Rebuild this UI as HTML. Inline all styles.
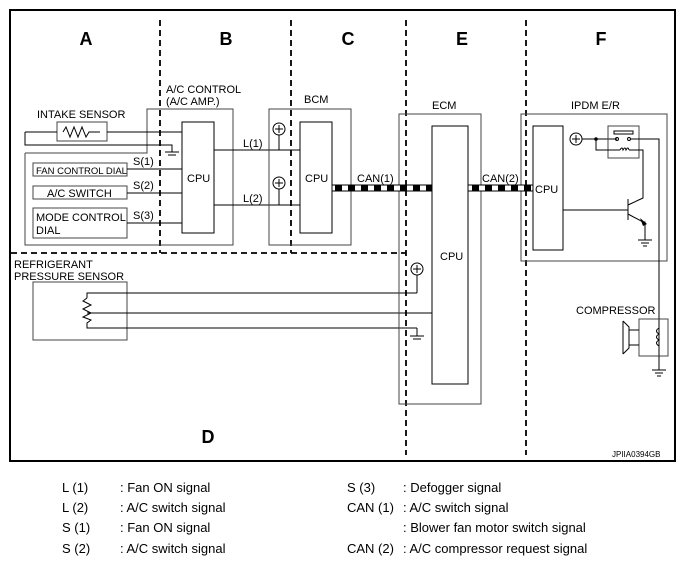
<!DOCTYPE html>
<html><head><meta charset="utf-8"><style>
html,body{margin:0;padding:0;background:#fff;}
svg{display:block;font-family:"Liberation Sans",Arial,sans-serif;}
</style></head><body>
<svg width="685" height="565" viewBox="0 0 685 565" xmlns="http://www.w3.org/2000/svg">
<rect x="10" y="10" width="665" height="451" fill="none" stroke="#000" stroke-width="2"/>
<g stroke="#000" stroke-width="1.8" stroke-dasharray="6 4" fill="none">
<line x1="160" y1="20" x2="160" y2="253"/>
<line x1="291" y1="20" x2="291" y2="253"/>
<line x1="406" y1="20" x2="406" y2="455"/>
<line x1="526" y1="20" x2="526" y2="455"/>
<line x1="11" y1="253" x2="406" y2="253"/>
</g>
<g font-weight="bold" font-size="18" text-anchor="middle">
<text x="86" y="45">A</text><text x="226" y="45">B</text><text x="348" y="45">C</text>
<text x="462" y="45">E</text><text x="601" y="45">F</text><text x="208" y="443">D</text>
</g>
<g fill="none" stroke="#000" stroke-width="1">
<polyline points="25,153 147,153 147,109 233,109 233,245 25,245 25,153" stroke="#444"/>
<rect x="182" y="122" width="32" height="111"/>
<rect x="57" y="122" width="50" height="19" stroke="#444"/>
<polyline points="25,132 57,132"/><polyline points="107,132 182,132"/>
<polyline points="63,132 66,127 70,137 74,127 78,137 82,127 86,137 89,132 100,132"/>
<polyline points="25,132 25,145 172,145 172,152"/>
<line x1="165" y1="152" x2="179" y2="152"/><line x1="168" y1="155" x2="176" y2="155"/>
<rect x="33" y="163" width="94" height="13" stroke="#444"/>
<rect x="33" y="186" width="94" height="13" stroke="#444"/>
<rect x="33" y="208" width="94" height="30" stroke="#444"/>
<line x1="127" y1="169" x2="182" y2="169"/>
<line x1="127" y1="193" x2="182" y2="193"/>
<line x1="127" y1="223" x2="182" y2="223"/>
<line x1="214" y1="150" x2="300" y2="150"/>
<line x1="214" y1="205" x2="300" y2="205"/>
<rect x="269" y="109" width="82" height="136" stroke="#444"/>
<rect x="300" y="122" width="32" height="111"/>
<circle cx="279" cy="129" r="6"/><line x1="279" y1="135" x2="279" y2="150"/>
<circle cx="279" cy="183" r="6"/><line x1="279" y1="189" x2="279" y2="205"/>
<rect x="33" y="282" width="94" height="58" stroke="#444"/>
<polyline points="417,293 87,293 87,298"/>
<polyline points="87,298 83,301 91,305 83,309 91,313 83,317 91,320 87,323 87,328 417,328"/>
<line x1="87" y1="313" x2="432" y2="313"/>
<line x1="417" y1="275" x2="417" y2="293"/><circle cx="417" cy="269" r="6"/>
<line x1="417" y1="328" x2="417" y2="336"/>
<line x1="410" y1="336" x2="424" y2="336"/><line x1="413" y1="339" x2="421" y2="339"/>
<rect x="399" y="114" width="82" height="290" stroke="#444"/>
<rect x="432" y="126" width="36" height="258"/>
<rect x="521" y="114" width="146" height="147" stroke="#444"/>
<rect x="533" y="126" width="30" height="124"/>
<circle cx="576" cy="139" r="6"/>
<line x1="582" y1="139" x2="617" y2="139"/>
<rect x="608" y="126" width="31" height="32" stroke="#444"/>
<rect x="614" y="131" width="19" height="3"/>
<circle cx="617" cy="139" r="1.5"/><circle cx="629" cy="139" r="1.5"/>
<polyline points="631,139 659,139 659,366"/>
<polyline points="596,139 596,150 620,150"/>
<path d="M620,150 q2,-4 3,0 q2,-4 3,0 q2,-4 3,0"/>
<polyline points="629,150 643,150 643,198 628,205"/>
<line x1="628" y1="199" x2="628" y2="220"/>
<line x1="563" y1="210" x2="628" y2="210"/>
<polyline points="628,214 643,222 645,222 645,240"/>
<line x1="638" y1="240" x2="652" y2="240"/><line x1="641" y1="243" x2="649" y2="243"/>
<line x1="643" y1="246" x2="647" y2="246"/>
<rect x="639" y="319" width="29" height="37" stroke="#444"/>
<path d="M659,328 q-5,3 0,6 q-5,3 0,6 q-5,3 0,6"/>
<line x1="629" y1="330" x2="639" y2="330"/><line x1="629" y1="345" x2="639" y2="345"/>
<polyline points="623,321 629,327 629,348 623,354"/>
<line x1="623" y1="321" x2="623" y2="354"/>
<line x1="652" y1="370" x2="666" y2="370"/><line x1="655" y1="373" x2="663" y2="373"/>
<line x1="657" y1="376" x2="661" y2="376"/>
<line x1="659" y1="356" x2="659" y2="370"/>
</g>
<polygon points="640,218 647,224 643,226" fill="#000"/>
<circle cx="596" cy="139" r="1.8" fill="#000"/>
<g stroke="#000" stroke-width="1">
<line x1="275" y1="129" x2="283" y2="129"/><line x1="279" y1="125" x2="279" y2="133"/>
<line x1="275" y1="183" x2="283" y2="183"/><line x1="279" y1="179" x2="279" y2="187"/>
<line x1="413" y1="269" x2="421" y2="269"/><line x1="417" y1="265" x2="417" y2="273"/>
<line x1="572" y1="139" x2="580" y2="139"/><line x1="576" y1="135" x2="576" y2="143"/>
</g>
<rect x="332" y="185" width="100" height="6" fill="#fff" stroke="#000" stroke-width="1"/>
<line x1="332" y1="188" x2="432" y2="188" stroke="#000" stroke-width="6" stroke-dasharray="7 6" stroke-dashoffset="-3"/>
<rect x="468" y="185" width="65" height="6" fill="#fff" stroke="#000" stroke-width="1"/>
<line x1="468" y1="188" x2="533" y2="188" stroke="#000" stroke-width="6" stroke-dasharray="7 6" stroke-dashoffset="-4"/>
<g font-size="11" fill="#000">
<text x="166" y="93">A/C CONTROL</text>
<text x="166" y="105">(A/C AMP.)</text>
<text x="37" y="118">INTAKE SENSOR</text>
<text x="36" y="174" font-size="9.5">FAN CONTROL DIAL</text>
<text x="47" y="197">A/C SWITCH</text>
<text x="36" y="221">MODE CONTROL</text>
<text x="36" y="234">DIAL</text>
<text x="133" y="165">S(1)</text><text x="133" y="189">S(2)</text><text x="133" y="219">S(3)</text>
<text x="187" y="182">CPU</text>
<text x="243" y="147">L(1)</text><text x="243" y="202">L(2)</text>
<text x="304" y="103">BCM</text>
<text x="305" y="182">CPU</text>
<text x="357" y="182">CAN(1)</text>
<text x="482" y="182">CAN(2)</text>
<text x="432" y="109">ECM</text>
<text x="440" y="260">CPU</text>
<text x="571" y="109">IPDM E/R</text>
<text x="535" y="193">CPU</text>
<text x="14" y="268">REFRIGERANT</text>
<text x="14" y="280">PRESSURE SENSOR</text>
<text x="576" y="314">COMPRESSOR</text>
<text x="612" y="457" font-size="8">JPIIA0394GB</text>
</g>
<g font-size="13" fill="#000">
<text x="62" y="492">L (1)</text><text x="120" y="492">: Fan ON signal</text>
<text x="62" y="512">L (2)</text><text x="120" y="512">: A/C switch signal</text>
<text x="62" y="532">S (1)</text><text x="120" y="532">: Fan ON signal</text>
<text x="62" y="553">S (2)</text><text x="120" y="553">: A/C switch signal</text>
<text x="347" y="492">S (3)</text><text x="403" y="492">: Defogger signal</text>
<text x="347" y="512">CAN (1)</text><text x="403" y="512">: A/C switch signal</text>
<text x="403" y="532">: Blower fan motor switch signal</text>
<text x="347" y="553">CAN (2)</text><text x="403" y="553">: A/C compressor request signal</text>
</g>
</svg>
</body></html>
